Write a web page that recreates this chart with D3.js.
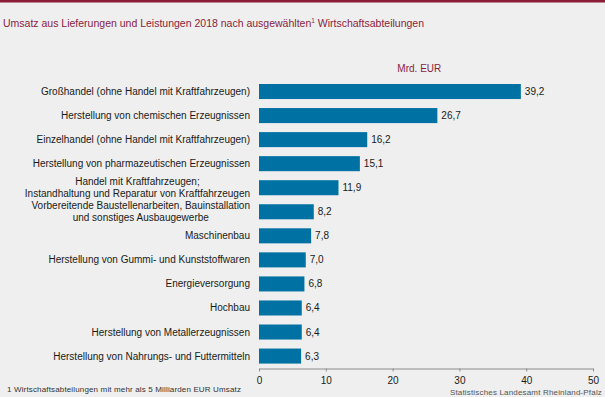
<!DOCTYPE html>
<html><head><meta charset="utf-8">
<script src="https://cdn.jsdelivr.net/npm/d3@7"></script>
<style>
html,body{margin:0;padding:0;background:#eeefee;}
svg{display:block;font-family:"Liberation Sans",Arial,sans-serif;}
</style></head>
<body><svg id="c" width="605" height="397"></svg>
<script>
const categories = [
  ["Großhandel (ohne Handel mit Kraftfahrzeugen)"],
  ["Herstellung von chemischen Erzeugnissen"],
  ["Einzelhandel (ohne Handel mit Kraftfahrzeugen)"],
  ["Herstellung von pharmazeutischen Erzeugnissen"],
  ["Handel mit Kraftfahrzeugen;", "Instandhaltung und Reparatur von Kraftfahrzeugen"],
  ["Vorbereitende Baustellenarbeiten, Bauinstallation", "und sonstiges Ausbaugewerbe"],
  ["Maschinenbau"],
  ["Herstellung von Gummi- und Kunststoffwaren"],
  ["Energieversorgung"],
  ["Hochbau"],
  ["Herstellung von Metallerzeugnissen"],
  ["Herstellung von Nahrungs- und Futtermitteln"]
];
const values = [39.2, 26.7, 16.2, 15.1, 11.9, 8.2, 7.8, 7.0, 6.8, 6.4, 6.4, 6.3];
const xTicks = [0, 10, 20, 30, 40, 50];
const titleText = "Umsatz aus Lieferungen und Leistungen 2018 nach ausgewählten";
const titleSup = "1";
const titleRest = " Wirtschaftsabteilungen";
const unitText = "Mrd. EUR";
const footnote = "1 Wirtschaftsabteilungen  mit mehr als 5 Milliarden EUR Umsatz";
const source = "Statistisches Landesamt Rheinland-Pfalz";

const svg = d3.select("#c");
const crimson = "#8a1d3f";
const barColor = "#0071a3";
const ids = categories.map((c, i) => i);

svg.append("rect").attr("x", 0).attr("y", 0).attr("width", 605).attr("height", 2.5).attr("fill", "#8b1c36");

const t = svg.append("text").attr("x", 3).attr("y", 27).attr("fill", crimson).attr("font-size", 10.5);
t.append("tspan").text(titleText);
t.append("tspan").attr("font-size", 6.5).attr("dy", -4).text(titleSup);
t.append("tspan").attr("dy", 4).text(titleRest);

const x = d3.scaleLinear().domain([0, 50]).range([259, 593]);
const y = d3.scaleBand().domain(ids).range([79.5, 368.1]).paddingInner(0.375).paddingOuter(0.1875);

svg.append("text").attr("x", x(24)).attr("y", 72).attr("text-anchor", "middle")
  .attr("fill", crimson).attr("font-size", 10).text(unitText);

svg.append("g").selectAll("rect").data(values).join("rect")
  .attr("x", x(0)).attr("y", (d, i) => y(i)).attr("width", d => x(d) - x(0))
  .attr("height", y.bandwidth()).attr("fill", barColor);

const fmt = d => d.toFixed(1).replace(".", ",");
svg.append("g").selectAll("text").data(values).join("text")
  .attr("x", d => x(d) + 4).attr("y", (d, i) => y(i) + y.bandwidth() / 2)
  .attr("dy", "0.35em").attr("font-size", 10).attr("fill", "#1a1a1a").text(fmt);

const lab = svg.append("g").attr("font-size", 10).attr("fill", "#1a1a1a");
categories.forEach((lines, i) => {
  const cy = y(i) + y.bandwidth() / 2;
  const lh = 12;
  const txt = lab.append("text");
  const spans = lines.map((l, j) => txt.append("tspan").attr("y", cy + (j - (lines.length - 1) / 2) * lh).attr("dy", "0.35em").text(l));
  if (lines.length === 1) {
    txt.attr("text-anchor", "end");
    spans.forEach(s => s.attr("x", 250));
  } else {
    const w = d3.max(spans, s => s.node().getComputedTextLength());
    txt.attr("text-anchor", "middle");
    spans.forEach(s => s.attr("x", 250 - w / 2));
  }
});

const ax = svg.append("g").attr("transform", "translate(0,368.5)")
  .call(d3.axisBottom(x).tickValues(xTicks).tickSize(3).tickSizeOuter(0).tickFormat(d3.format("d")));
ax.select(".domain").attr("stroke", "#8c8c8c");
ax.selectAll(".tick line").attr("stroke", "#8c8c8c");
ax.selectAll(".tick text").attr("font-size", 10).attr("fill", "#1a1a1a").attr("font-family", "Liberation Sans, Arial, sans-serif").attr("dy", "0.9em");

svg.append("text").attr("x", 7).attr("y", 392).attr("font-size", 8).attr("letter-spacing", 0.15).attr("fill", "#333").text(footnote);
svg.append("text").attr("x", 602).attr("y", 395).attr("text-anchor", "end").attr("font-size", 8).attr("letter-spacing", 0.17).attr("fill", "#555").text(source);
</script></body></html>
